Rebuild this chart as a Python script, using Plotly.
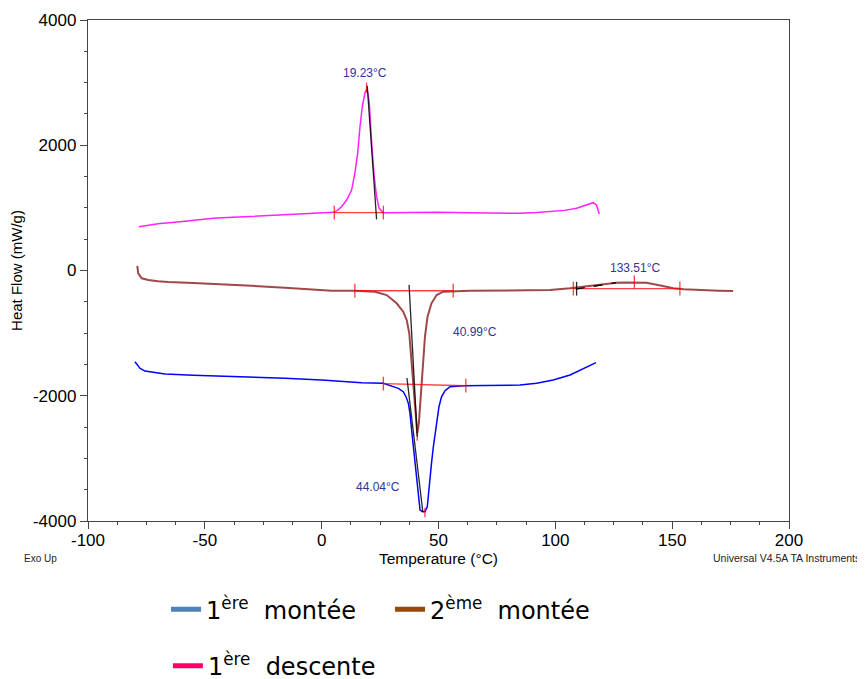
import plotly.graph_objects as go

# ---------------- data ----------------
# 1ère descente (magenta curve)
descente_T = [-78.2, -74, -70, -60.6, -52, -46.4, -38, -30, -17.8, -8, 0, 5.0, 6.8, 8.5, 10.7, 12.8,
              14.2, 15.4, 16.4, 17.4, 18.5, 19.2, 19.8, 20.4, 21.4, 22.5, 23.5, 24.6, 26.4, 30, 40,
              50, 63.5, 75, 84.9, 92, 99.1, 104, 109.1, 113.4, 116.2, 117.6, 118.8]
descente_HF = [699, 720, 745, 779, 810, 833, 850, 865, 897, 912, 922, 929, 960, 1019, 1125, 1285,
               1552, 1871, 2296, 2616, 2829, 2893, 2830, 2670, 2031, 1497, 1178, 993, 922, 925, 928,
               930, 922, 918, 913, 925, 939, 960, 993, 1045, 1083, 1045, 902]

# 2ème montée (brown curve)
montee2_T = [-78.9, -78.5, -77, -74.2, -70, -65.6, -55, -44.2, -30, -15.7, 0, 4.3, 14.2, 22.8, 27.8,
             32.1, 34.9, 36.4, 37.5, 38.2, 39.2, 39.9, 40.9, 41.6, 42.3, 43.2, 44.2, 45.3, 47.0, 49.2,
             52.0, 63.5, 80, 97.7, 106.3, 112, 118, 122, 126.2, 130, 133.2, 136, 139, 145, 150.5,
             155, 160.4, 170, 176.1]
montee2_HF = [72, -45, -125, -152, -170, -184, -200, -216, -245, -275, -310, -323, -323, -339, -392,
              -524, -658, -791, -1004, -1323, -1856, -2228, -2600, -2441, -2016, -1536, -1058, -738,
              -524, -392, -339, -323, -318, -312, -285, -260, -225, -205, -195, -190, -190, -192,
              -195, -240, -285, -300, -312, -322, -328]

# 1ère montée (blue curve)
montee1_T = [-79.9, -78.5, -77.7, -75.6, -70, -67, -55, -44.2, -30, -15.7, 0, 17.1, 26.4, 30.6, 32.8,
             34.9, 36.1, 37.1, 37.8, 38.5, 39.2, 39.9, 40.6, 41.4, 42.1, 43.2, 44.2, 45.2, 45.7, 46.3,
             47.0, 47.8, 48.5, 49.2, 50.2, 51.3, 52.8, 54.9, 60.6, 70, 84.9, 92, 99.1, 106.3, 112, 117.4]
montee1_HF = [-1457, -1537, -1563, -1606, -1640, -1653, -1672, -1685, -1705, -1722, -1750, -1792,
              -1802, -1856, -1882, -1936, -2016, -2121, -2281, -2547, -2814, -3080, -3346, -3612,
              -3825, -3852, -3852, -3772, -3559, -3346, -3080, -2814, -2601, -2388, -2175, -2016,
              -1920, -1856, -1840, -1835, -1829, -1800, -1749, -1669, -1562, -1472]

# peak analysis: integration limits and baselines (red), peak markers, tangents (black)
base_T_start = [5.4, 14.2, 26.4, 107.7]
base_T_end = [26.4, 56.3, 61.7, 153.3]
base_HF_start = [925, -323, -1805, -290]
base_HF_end = [925, -323, -1840, -290]
limit_tick_half = 110

peak_T = [19.2, 40.9, 44.2, 133.8]
peak_HF_low = [2840, -2720, -3940, -290]
peak_HF_high = [3000, -2520, -3790, -80]
peak_labels = ["19.23°C", "40.99°C", "44.04°C", "133.51°C"]
label_T = [18.5, 65.6, 24.1, 134.1]
label_HF = [3154, -983, -3458, 39]

tangent_T0 = [19.5, 37.4, 36.5]
tangent_HF0 = [2950, -230, -1717]
tangent_T1 = [23.5, 40.9, 43.3]
tangent_HF1 = [817, -2650, -3857]
onset_tangent_T = [108.8, 126.0]
onset_tangent_HF = [-296, -195]
onset_tick_T = 109.1
onset_tick_HF = -290

x_tick_vals = [-100, -50, 0, 50, 100, 150, 200]
x_tick_labels = ["-100", "-50", "0", "50", "100", "150", "200"]
y_tick_vals = [-4000, -2000, 0, 2000, 4000]
y_tick_labels = ["-4000", "-2000", "0", "2000", "4000"]

legend_names = ["1<sup>ère</sup>\u00a0\u00a0montée", "2<sup>ème</sup>\u00a0\u00a0montée",
                "1<sup>ère</sup>\u00a0\u00a0descente"]
legend_colors = ["#4F81BD", "#984807", "#FF0066"]
legend_groups = ["legend", "legend", "legend2"]

FONT = "Arial, Liberation Sans, sans-serif"
LEGEND_FONT = "DejaVu Sans, Arial, sans-serif"

fig = go.Figure()

# curves
fig.add_trace(go.Scatter(x=descente_T, y=descente_HF, mode="lines",
                         line=dict(color="#FF22FF", width=1.5), showlegend=False, hoverinfo="skip"))
fig.add_trace(go.Scatter(x=montee2_T, y=montee2_HF, mode="lines",
                         line=dict(color="#A04848", width=2), showlegend=False, hoverinfo="skip"))
fig.add_trace(go.Scatter(x=montee1_T, y=montee1_HF, mode="lines",
                         line=dict(color="#0000FF", width=1.5), showlegend=False, hoverinfo="skip"))

# red baselines + limit ticks + peak ticks
rx, ry = [], []
for t0, t1, h0, h1 in zip(base_T_start, base_T_end, base_HF_start, base_HF_end):
    rx += [t0, t1, None]
    ry += [h0, h1, None]
    rx += [t0, t0, None, t1, t1, None]
    ry += [h0 - limit_tick_half, h0 + limit_tick_half, None,
           h1 - limit_tick_half, h1 + limit_tick_half, None]
for t, lo, hi in zip(peak_T, peak_HF_low, peak_HF_high):
    rx += [t, t, None]
    ry += [lo, hi, None]
fig.add_trace(go.Scatter(x=rx, y=ry, mode="lines", line=dict(color="rgba(255,0,0,0.75)", width=1.3),
                         showlegend=False, hoverinfo="skip"))

# black tangents
bx, by = [], []
for t0, h0, t1, h1 in zip(tangent_T0, tangent_HF0, tangent_T1, tangent_HF1):
    bx += [t0, t1, None]
    by += [h0, h1, None]
bx += [onset_tick_T, onset_tick_T, None]
by += [onset_tick_HF - limit_tick_half, onset_tick_HF + limit_tick_half, None]
fig.add_trace(go.Scatter(x=bx, y=by, mode="lines", line=dict(color="rgba(0,0,0,0.85)", width=1.3),
                         showlegend=False, hoverinfo="skip"))
fig.add_trace(go.Scatter(x=onset_tangent_T, y=onset_tangent_HF, mode="lines",
                         line=dict(color="black", width=1.3, dash="dash"),
                         showlegend=False, hoverinfo="skip"))

# legend entries
for name, col, lg in zip(legend_names, legend_colors, legend_groups):
    fig.add_trace(go.Scatter(x=[None], y=[None], mode="lines", name=name,
                             line=dict(color=col, width=5), legend=lg))

# peak labels
for txt, t, h in zip(peak_labels, label_T, label_HF):
    fig.add_annotation(x=t, y=h, text=txt, showarrow=False,
                       font=dict(size=12, color="#333399", family=FONT))

fig.add_annotation(xref="paper", yref="paper", x=-0.094, y=-0.074, xanchor="left", yanchor="middle",
                   text="Exo Up", showarrow=False, font=dict(size=10, color="#222", family=FONT))
fig.add_annotation(xref="paper", yref="paper", x=1.104, y=-0.074, xanchor="right", yanchor="middle",
                   text="Universal V4.5A TA Instruments", showarrow=False,
                   font=dict(size=10.5, color="#222", family=FONT))

axis_common = dict(showline=True, linecolor="#444", linewidth=1.3, mirror=True, showgrid=False,
                   zeroline=False, ticks="outside", ticklen=7, tickwidth=1, tickcolor="#444",
                   tickfont=dict(size=17, color="black", family=FONT))

# the page body adds an 8 px offset, so the figure is 8 px smaller than the window
fig.update_layout(
    width=857, height=671,
    margin=dict(l=80, r=76, t=12, b=158, autoexpand=False),
    paper_bgcolor="white", plot_bgcolor="white",
    font=dict(family=FONT, color="black"),
    xaxis=dict(range=[-100, 200], tickmode="array", tickvals=x_tick_vals, ticktext=x_tick_labels,
               minor=dict(tickmode="linear", tick0=-100, dtick=12.5, ticks="outside", ticklen=3,
                          tickcolor="#444", showgrid=False),
               ticklabelstandoff=-4,
               title=dict(text="Temperature (°C)", font=dict(size=15.5, family=FONT), standoff=1),
               **axis_common),
    yaxis=dict(range=[-4000, 4000], tickmode="array", tickvals=y_tick_vals, ticktext=y_tick_labels,
               minor=dict(tickmode="linear", tick0=-4000, dtick=500, ticks="outside", ticklen=3,
                          tickcolor="#444", showgrid=False),
               title=dict(text="Heat Flow (mW/g)", font=dict(size=15, family=FONT), standoff=8),
               **axis_common),
    legend=dict(orientation="h", x=0.1113, xanchor="left", y=-0.132, yanchor="top",
                font=dict(size=24, color="black", family=LEGEND_FONT), entrywidth=179,
                entrywidthmode="pixels", bgcolor="rgba(0,0,0,0)", itemclick=False),
    legend2=dict(orientation="h", x=0.114, xanchor="left", y=-0.245, yanchor="top",
                 font=dict(size=24, color="black", family=LEGEND_FONT),
                 bgcolor="rgba(0,0,0,0)", itemclick=False),
    showlegend=True,
)

fig.write_html("out.html")
